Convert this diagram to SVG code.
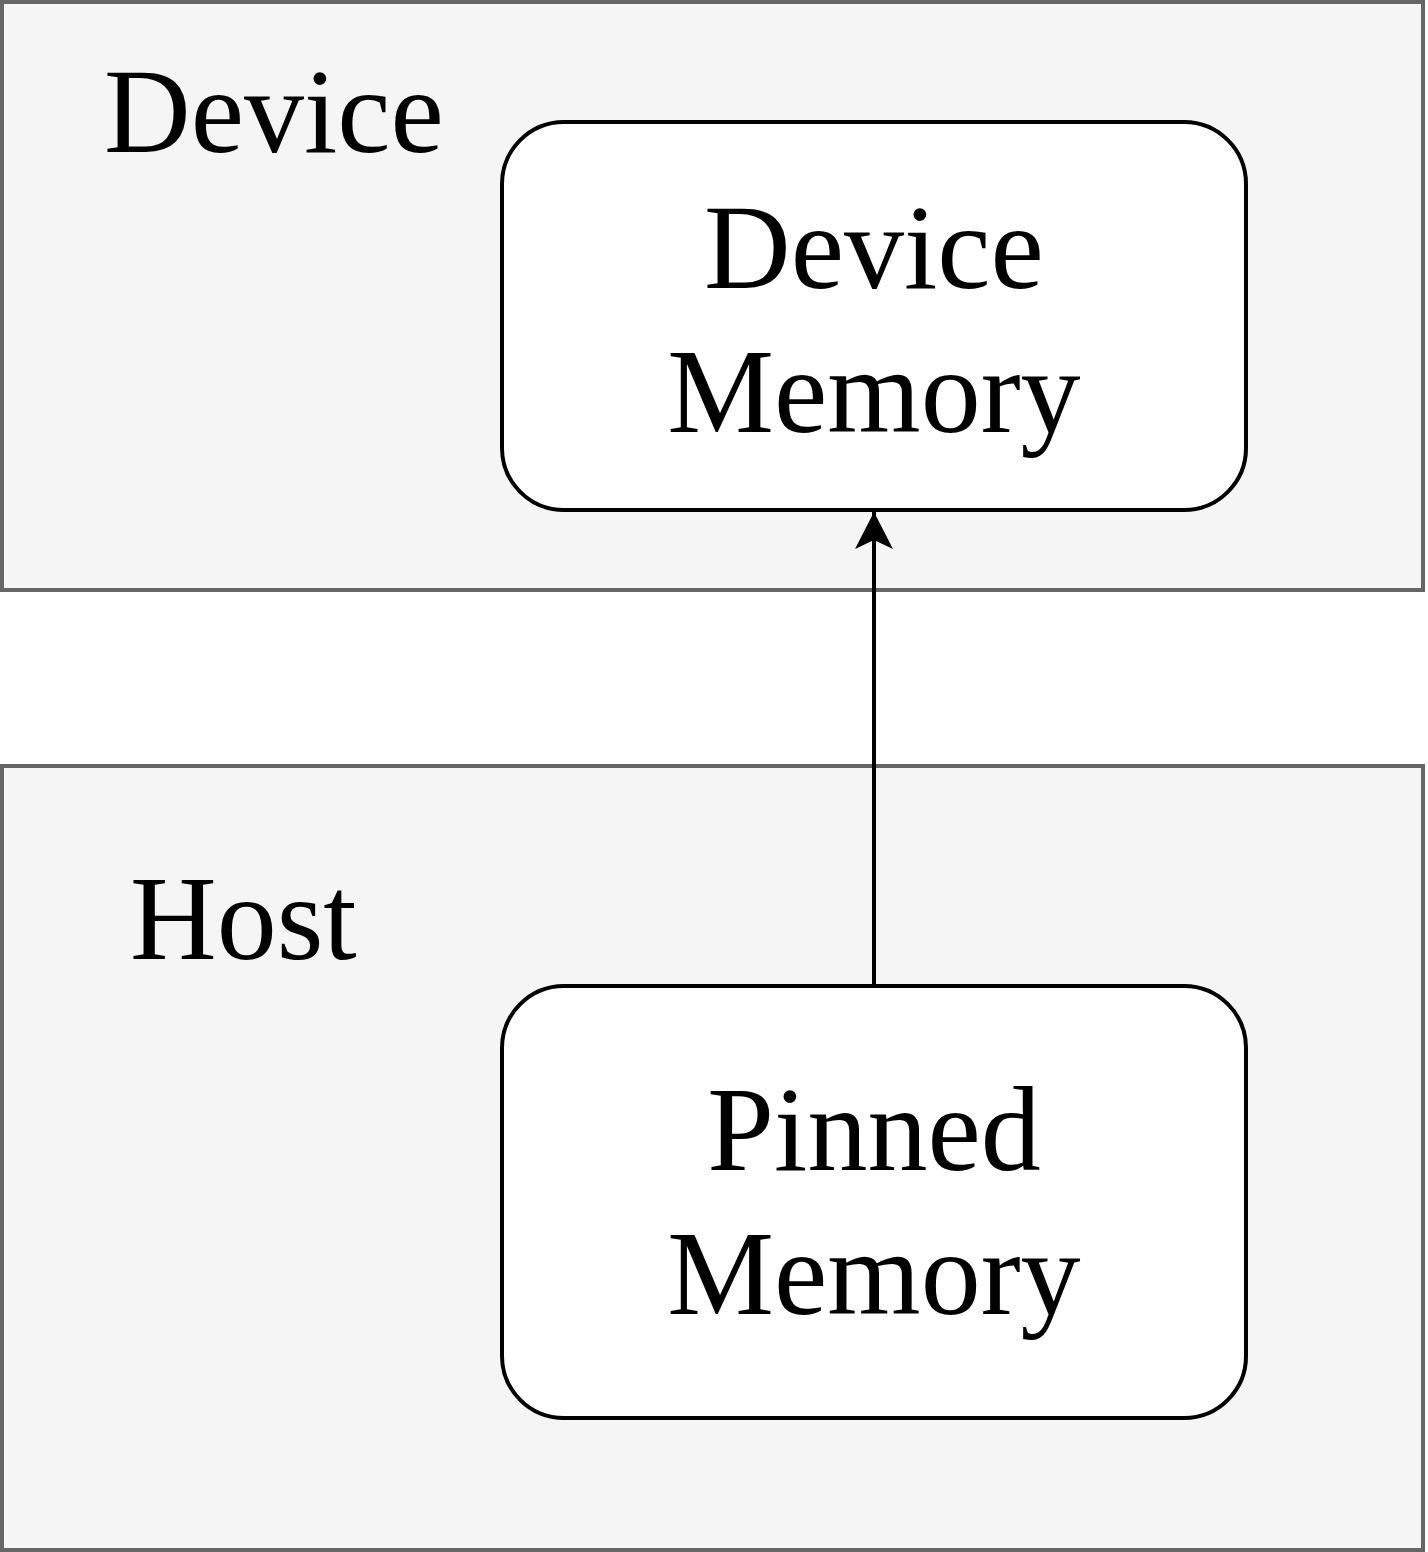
<svg xmlns="http://www.w3.org/2000/svg" width="1428" height="1552" viewBox="0 0 1428 1552">
<style>
.region{fill:#f5f5f5;stroke:#666666;stroke-width:4}
.box{fill:#ffffff;stroke:#000000;stroke-width:4}
.t{font-family:"Liberation Serif","Times New Roman",serif;font-size:120px;fill:#000000}
.c{text-anchor:middle}
.edge{fill:none;stroke:#000000;stroke-width:4}
</style>
<defs>
<marker id="arr" markerUnits="userSpaceOnUse" markerWidth="40" markerHeight="40" viewBox="0 0 40 40" refX="38" refY="20" orient="auto">
<path d="M38,20 L1,1 L10,20 L1,39 Z" fill="#000000"/>
</marker>
</defs>
<g id="device-region">
<rect class="region" x="2" y="2" width="1421" height="588"/>
<text class="t" x="104" y="152">Device</text>
</g>
<g id="host-region">
<rect class="region" x="2" y="766" width="1421" height="784"/>
<text class="t" x="130" y="959">Host</text>
</g>
<g id="device-memory">
<rect class="box" x="502" y="122" width="744" height="388" rx="62" ry="62"/>
<text class="t c" x="874" y="288">Device</text>
<text class="t c" x="874" y="432">Memory</text>
</g>
<g id="pinned-memory">
<rect class="box" x="502" y="986" width="744" height="432" rx="62" ry="62"/>
<text class="t c" x="874" y="1170">Pinned</text>
<text class="t c" x="874" y="1314">Memory</text>
</g>
<g id="connectors">
<path class="edge" d="M874,986 L874,512" marker-end="url(#arr)"/>
</g>
</svg>
